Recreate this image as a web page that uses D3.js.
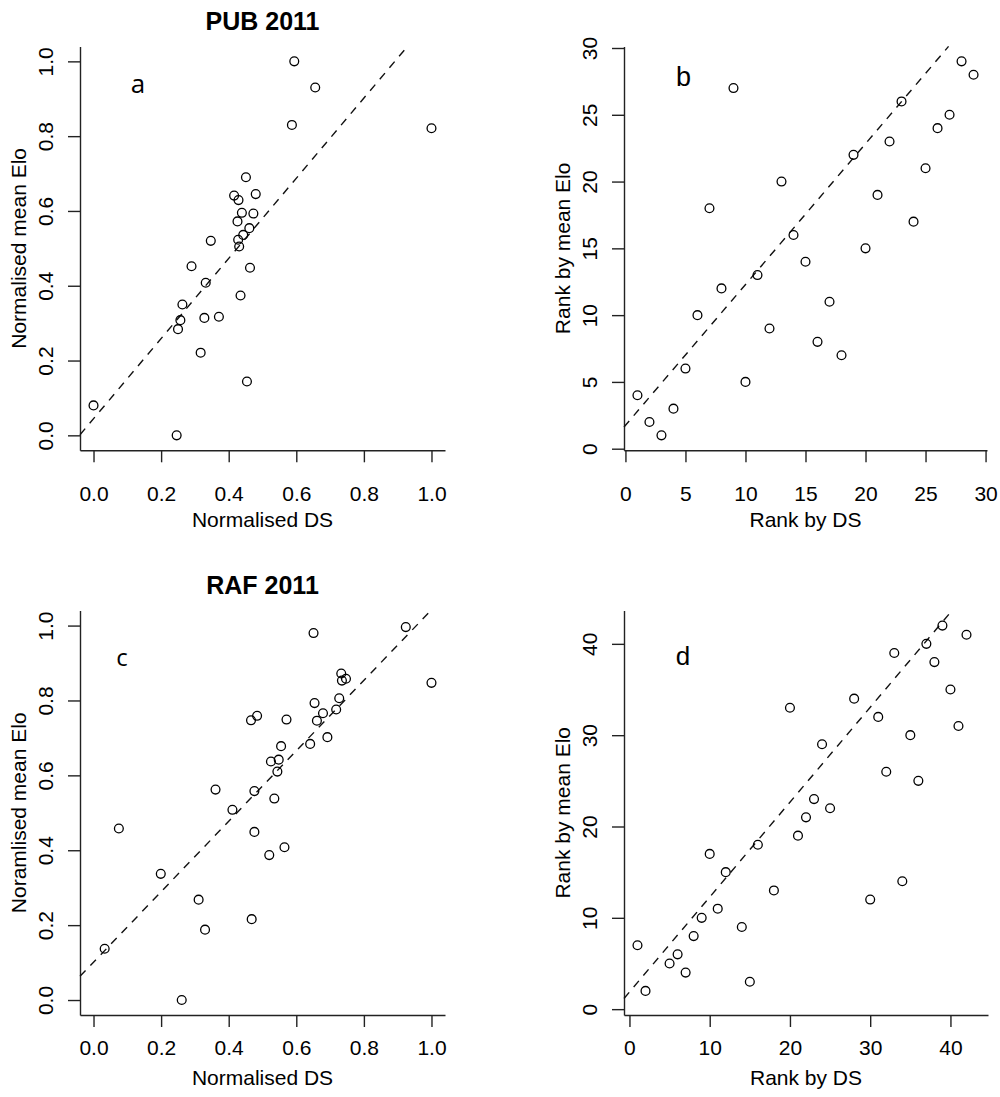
<!DOCTYPE html>
<html><head><meta charset="utf-8">
<script src="https://cdn.jsdelivr.net/npm/d3@7"></script>
<style>
html,body{margin:0;padding:0;background:#fff;}
text{font-family:"Liberation Sans",Arial,Helvetica,sans-serif;fill:#000;}
</style></head>
<body>
<script>
// ---------- DATA ----------
const pubDS  = [0.594,0.656,0.587,1.000,0.451,0.416,0.480,0.429,0.439,0.473,0.426,0.461,0.443,0.428,0.431,0.347,0.290,0.463,0.332,0.435,0.263,0.257,0.250,0.328,0.371,0.317,0.454,0.000,0.246];
const pubElo = [1.000,0.930,0.830,0.821,0.690,0.641,0.645,0.629,0.595,0.593,0.572,0.554,0.536,0.523,0.505,0.520,0.452,0.448,0.408,0.374,0.350,0.308,0.284,0.314,0.317,0.221,0.144,0.080,0.000];

const pubRankDS  = [1,2,3,4,5,6,7,8,9,10,11,12,13,14,15,16,17,18,19,20,21,22,23,24,25,26,27,28,29];
const pubRankElo = [4,2,1,3,6,10,18,12,27,5,13,9,20,16,14,8,11,7,22,15,19,23,26,17,21,24,25,29,28];

const rafDS  = [0.924,0.651,1.000,0.733,0.735,0.747,0.727,0.718,0.654,0.679,0.661,0.692,0.641,0.466,0.484,0.571,0.555,0.525,0.548,0.544,0.535,0.476,0.361,0.411,0.476,0.565,0.520,0.075,0.199,0.311,0.330,0.468,0.033,0.261];
const rafElo = [0.996,0.980,0.847,0.872,0.853,0.858,0.806,0.776,0.793,0.766,0.746,0.702,0.684,0.747,0.759,0.749,0.678,0.637,0.642,0.610,0.538,0.558,0.562,0.508,0.449,0.408,0.387,0.458,0.337,0.268,0.188,0.216,0.137,0.000];

const rafRankDS  = [1,2,5,6,7,8,9,10,11,12,14,15,16,18,20,21,22,23,24,25,28,30,31,32,33,34,35,36,37,38,39,40,41,42];
const rafRankElo = [7,2,5,6,4,8,10,17,11,15,9,3,18,13,33,19,21,23,29,22,34,12,32,26,39,14,30,25,40,38,42,35,31,41];

// fitted dashed lines: [intercept, slope]
const fitA = [0.0445, 1.0716];
const fitB = [1.75, 1.054];
const fitC = [0.101, 0.941];
const fitD = [1.88, 1.039];

// tick values
const normTicks  = [0, 0.2, 0.4, 0.6, 0.8, 1.0];
const rankTicksB = [0, 5, 10, 15, 20, 25, 30];
const rankTicksD = [0, 10, 20, 30, 40];

const titles  = ["PUB 2011", "", "RAF 2011", ""];
const letters = ["a", "b", "c", "d"];
const xLabels = ["Normalised DS", "Rank by DS", "Normalised DS", "Rank by DS"];
const yLabels = ["Normalised mean Elo", "Rank by mean Elo", "Noramlised mean Elo", "Rank by mean Elo"];

// ---------- DRAW ----------
const W = 1000, H = 1097;
const svg = d3.select("body").append("svg").attr("width", W).attr("height", H);
svg.append("rect").attr("width", W).attr("height", H).attr("fill", "#fff");

const fmtNorm = d3.format(".1f");
const fmtInt = d3.format("d");

const panels = [
  {box:[80,445,46.4,450.3], xdom:[-0.04,1.04], ydom:[-0.04,1.04], xt:normTicks, yt:normTicks, fmt:fmtNorm,
   xs:pubDS, ys:pubElo, fit:fitA, letterOff:[58,47], letterFont:'"Open Sans",sans-serif', letterSize:26, tickLab:51, axTitle:77},
  {box:[624,987,46.4,450.3], xdom:[-0.12,30.12], ydom:[-0.12,30.12], xt:rankTicksB, yt:rankTicksB, fmt:fmtInt,
   xs:pubRankDS, ys:pubRankElo, fit:fitB, letterOff:[59.5,40], letterFont:'"Liberation Sans",Arial,sans-serif', letterSize:27, tickLab:51, axTitle:77},
  {box:[80,445,610.6,1015], xdom:[-0.04,1.04], ydom:[-0.04,1.04], xt:normTicks, yt:normTicks, fmt:fmtNorm,
   xs:rafDS, ys:rafElo, fit:fitC, letterOff:[42,55], letterFont:'"Open Sans",sans-serif', letterSize:24, tickLab:40, axTitle:70},
  {box:[624,988,610.6,1015], xdom:[-0.68,44.68], ydom:[-0.64,43.64], xt:rankTicksD, yt:rankTicksD, fmt:fmtInt,
   xs:rafRankDS, ys:rafRankElo, fit:fitD, letterOff:[59,54], letterFont:'"Liberation Sans",Arial,sans-serif', letterSize:26, tickLab:40, axTitle:70}
];

panels.forEach((p, i) => {
  const [L, R, T, B] = p.box;
  const x = d3.scaleLinear().domain(p.xdom).range([L, R]);
  const y = d3.scaleLinear().domain(p.ydom).range([B, T]);
  const g = svg.append("g");

  // x axis
  const gx = g.append("g").attr("transform", `translate(0,${B})`)
    .call(d3.axisBottom(x).tickValues(p.xt).tickFormat(p.fmt).tickSize(12).tickSizeOuter(0));
  gx.selectAll("text").attr("y", p.tickLab).attr("dy", 0).style("font-size", "21px")
    .style("font-family", '"Liberation Sans",Arial,sans-serif');
  // y axis
  const gy = g.append("g").attr("transform", `translate(${L},0)`)
    .call(d3.axisLeft(y).tickValues(p.yt).tickFormat(p.fmt).tickSize(12).tickSizeOuter(0));
  gy.selectAll(".tick text").attr("x", null).attr("dy", null)
    .attr("text-anchor", "middle").attr("transform", "translate(-27,0) rotate(-90)")
    .style("font-size", "21px").style("font-family", '"Liberation Sans",Arial,sans-serif');
  [gx, gy].forEach(a => {
    a.select(".domain").attr("stroke", "#222").attr("stroke-width", 1.4);
    a.selectAll(".tick line").attr("stroke", "#222").attr("stroke-width", 1.4);
  });

  // axis titles
  g.append("text").attr("x", (L + R) / 2).attr("y", B + p.axTitle).attr("text-anchor", "middle")
    .style("font-size", "21px").text(xLabels[i]);
  g.append("text").attr("transform", `translate(${L - 54},${(T + B) / 2}) rotate(-90)`)
    .attr("text-anchor", "middle").style("font-size", "21px").text(yLabels[i]);

  // main title
  if (titles[i]) {
    g.append("text").attr("x", (L + R) / 2).attr("y", T - 16.5).attr("text-anchor", "middle")
      .style("font-size", "25px").style("font-weight", "bold").text(titles[i]);
  }

  // panel letter
  g.append("text").attr("x", L + p.letterOff[0]).attr("y", T + p.letterOff[1]).attr("text-anchor", "middle")
    .style("font-size", p.letterSize + "px").style("font-family", p.letterFont).text(letters[i]);

  // dashed fit line, clipped to plot region
  const [b0, m] = p.fit;
  let xa = p.xdom[0], ya = b0 + m * xa;
  if (ya < p.ydom[0]) { ya = p.ydom[0]; xa = (ya - b0) / m; }
  let xb = p.xdom[1], yb = b0 + m * xb;
  if (yb > p.ydom[1]) { yb = p.ydom[1]; xb = (yb - b0) / m; }
  g.append("line").attr("x1", x(xa)).attr("y1", y(ya)).attr("x2", x(xb)).attr("y2", y(yb))
    .attr("stroke", "#111").attr("stroke-width", 1.4).attr("stroke-dasharray", "8,7");

  // points
  g.append("g").selectAll("circle").data(p.xs.map((v, k) => [v, p.ys[k]])).join("circle")
    .attr("cx", d => x(d[0])).attr("cy", d => y(d[1])).attr("r", 4.4)
    .attr("fill", "none").attr("stroke", "#000").attr("stroke-width", 1.3);
});
</script>
</body></html>
